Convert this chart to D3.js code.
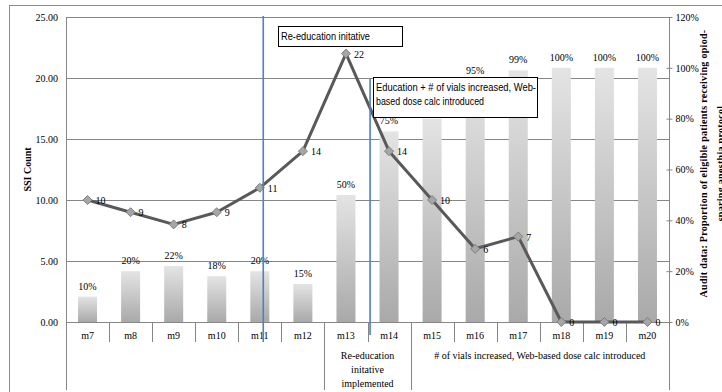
<!DOCTYPE html>
<html>
<head>
<meta charset="utf-8">
<script src="https://cdn.jsdelivr.net/npm/d3@7"></script>
<style>
  html, body { margin: 0; padding: 0; background: #fff; }
  svg { display: block; }
</style>
</head>
<body>
<svg id="chart" width="722" height="392"></svg>
<script>
// ---- data ----
const categories = ["m7","m8","m9","m10","m11","m12","m13","m14","m15","m16","m17","m18","m19","m20"];
const auditPct   = [10, 20, 22, 18, 20, 15, 50, 75, 80, 95, 99, 100, 100, 100];
const ssiCount   = [10, 9, 8, 9, 11, 14, 22, 14, 10, 6, 7, 0, 0, 0];
const leftTicks  = [0, 5, 10, 15, 20, 25];
const rightTicks = [0, 20, 40, 60, 80, 100, 120];
const groups = [
  { from: "m7",  to: "m12", label: [] },
  { from: "m13", to: "m14", label: ["Re-education", "initative", "implemented"] },
  { from: "m15", to: "m20", label: ["# of vials increased, Web-based dose calc introduced"] }
];
const leftTitle  = "SSI Count";
const rightTitle = ["Audit data: Proportion of eligible patients receiving opiod-", "sparing anesthia protocol"];
const noteBoxes = [
  ["Re-education initative"],
  ["Education + # of vials increased, Web-", "based dose calc introduced"]
];

// ---- layout ----
const W = 722, H = 392;
const plot = { left: 66, right: 669, top: 17, bottom: 322 };
const serif = "'Liberation Serif', 'Times New Roman', serif";
const sans = "'Liberation Sans', Arial, sans-serif";

const svg = d3.select("#chart");

const x = d3.scaleBand().domain(categories).range([plot.left, plot.right]).paddingInner(0).paddingOuter(0);
const yL = d3.scaleLinear().domain([0, 25]).range([plot.bottom, plot.top]);
const yR = d3.scaleLinear().domain([0, 120]).range([plot.bottom, plot.top]);
const bw = x.bandwidth();
const barW = 19;

// gradient
const defs = svg.append("defs");
const grad = defs.append("linearGradient").attr("id", "barGrad")
  .attr("x1", 0).attr("y1", 0).attr("x2", 0).attr("y2", 1);
grad.append("stop").attr("offset", "0%").attr("stop-color", "#e4e4e4");
grad.append("stop").attr("offset", "100%").attr("stop-color", "#a9a9a9");
const blur = defs.append("filter").attr("id", "soft").attr("x", "-20%").attr("y", "-5%").attr("width", "140%").attr("height", "110%");
blur.append("feGaussianBlur").attr("stdDeviation", 0.7);

// outer frame
svg.append("rect").attr("x", 9.5).attr("y", 5.5).attr("width", W).attr("height", H)
  .attr("fill", "none").attr("stroke", "#8c8c8c").attr("stroke-width", 1);

// gridlines (left axis)
svg.append("g").selectAll("line").data(leftTicks).join("line")
  .attr("x1", plot.left).attr("x2", plot.right)
  .attr("y1", d => Math.round(yL(d)) + 0.5).attr("y2", d => Math.round(yL(d)) + 0.5)
  .attr("stroke", "#868686").attr("stroke-width", 1);

// bars
svg.append("g").selectAll("rect").data(categories).join("rect")
  .attr("x", (d) => x(d) + bw / 2 - barW / 2)
  .attr("width", barW)
  .attr("y", (d, i) => yR(auditPct[i]))
  .attr("height", (d, i) => plot.bottom - yR(auditPct[i]))
  .attr("fill", "url(#barGrad)")
  .attr("filter", "url(#soft)");

// bar labels
svg.append("g").selectAll("text").data(categories).join("text")
  .attr("x", d => x(d) + bw / 2)
  .attr("y", (d, i) => yR(auditPct[i]) - 7)
  .attr("text-anchor", "middle")
  .attr("font-family", serif).attr("font-size", 10).attr("fill", "#000")
  .text((d, i) => auditPct[i] + "%");

// axes lines
const axisG = svg.append("g").attr("stroke", "#868686").attr("stroke-width", 1);
axisG.append("line").attr("x1", plot.left + 0.5).attr("x2", plot.left + 0.5).attr("y1", plot.top).attr("y2", 390);
axisG.append("line").attr("x1", plot.right + 0.5).attr("x2", plot.right + 0.5).attr("y1", plot.top).attr("y2", 390);
// category separators
axisG.selectAll("line.sep").data(categories.slice(1)).join("line").attr("class", "sep")
  .attr("x1", d => Math.round(x(d)) + 0.5).attr("x2", d => Math.round(x(d)) + 0.5)
  .attr("y1", plot.bottom).attr("y2", 342);
// group separators
axisG.selectAll("line.grp").data(groups.slice(1)).join("line").attr("class", "grp")
  .attr("x1", d => Math.round(x(d.from)) + 0.5).attr("x2", d => Math.round(x(d.from)) + 0.5)
  .attr("y1", 342).attr("y2", 390);

// left axis ticks text
const leftAxis = d3.axisLeft(yL).tickValues(leftTicks).tickFormat(d3.format(".2f")).tickSize(0).tickPadding(8);
const gl = svg.append("g").attr("transform", `translate(${plot.left},0)`).call(leftAxis);
gl.select(".domain").remove();
gl.selectAll("text").attr("font-family", serif).attr("font-size", 10).attr("fill", "#000");

// right axis
const rightAxis = d3.axisRight(yR).tickValues(rightTicks).tickFormat(d => d + "%").tickSize(3).tickPadding(3);
const gr = svg.append("g").attr("transform", `translate(${plot.right + 0.5},0)`).call(rightAxis);
gr.select(".domain").remove();
gr.selectAll("line").attr("stroke", "#868686").attr("x1", -3);
gr.selectAll("text").attr("font-family", serif).attr("font-size", 10).attr("fill", "#000");

// category labels
svg.append("g").selectAll("text").data(categories).join("text")
  .attr("x", d => x(d) + bw / 2).attr("y", 339)
  .attr("text-anchor", "middle")
  .attr("font-family", serif).attr("font-size", 10).attr("fill", "#000")
  .text(d => d);

// group labels
groups.forEach(g => {
  const cx = (x(g.from) + x(g.to) + bw) / 2;
  g.label.forEach((ln, j) => {
    svg.append("text").attr("x", cx).attr("y", 359 + j * 14)
      .attr("text-anchor", "middle")
      .attr("font-family", serif).attr("font-size", 10).attr("fill", "#000")
      .text(ln);
  });
});

// axis titles
svg.append("text")
  .attr("transform", `translate(31,${(plot.top + plot.bottom) / 2}) rotate(-90)`)
  .attr("text-anchor", "middle").attr("font-family", serif).attr("font-weight", "bold")
  .attr("font-size", 10).text(leftTitle);
rightTitle.forEach((t, j) => {
  svg.append("text")
    .attr("transform", `translate(${707 + j * 17},${(plot.top + 310) / 2}) rotate(-90)`)
    .attr("text-anchor", "middle").attr("font-family", serif).attr("font-weight", "bold")
    .attr("font-size", 10).attr("letter-spacing", 0.3).text(t);
});

// SSI line
const pts = categories.map((c, i) => [x(c) + bw / 2, yL(ssiCount[i])]);
svg.append("path").datum(pts)
  .attr("d", d3.line())
  .attr("fill", "none").attr("stroke", "#595959").attr("stroke-width", 3)
  .attr("stroke-linejoin", "round");
svg.append("g").selectAll("path").data(pts).join("path")
  .attr("d", d => `M${d[0]},${d[1] - 4.5}L${d[0] + 4.5},${d[1]}L${d[0]},${d[1] + 4.5}L${d[0] - 4.5},${d[1]}Z`)
  .attr("fill", "#a6a6a6").attr("stroke", "#7f7f7f").attr("stroke-width", 1);
svg.append("g").selectAll("text").data(pts).join("text")
  .attr("x", d => d[0] + 8).attr("y", d => d[1] + 4)
  .attr("font-family", serif).attr("font-size", 10).attr("fill", "#000")
  .text((d, i) => ssiCount[i]);

// intervention markers (blue vertical lines)
const blue = "#4f81bd";
svg.append("line")
  .attr("x1", x("m11") + bw * 0.58).attr("x2", x("m11") + bw * 0.58)
  .attr("y1", plot.top - 1).attr("y2", 342)
  .attr("stroke", blue).attr("stroke-width", 1.6);
svg.append("line")
  .attr("x1", x("m14") + bw * 0.06).attr("x2", x("m14") + bw * 0.06)
  .attr("y1", 79).attr("y2", 335)
  .attr("stroke", blue).attr("stroke-width", 1.6);

// annotation boxes
const boxes = [
  { x: 278.5, y: 26.5, w: 124, h: 20, lines: noteBoxes[0], lens: [89] },
  { x: 373.5, y: 77.5, w: 164, h: 40, lines: noteBoxes[1], lens: [160, 108] }
];
boxes.forEach(b => {
  svg.append("rect").attr("x", b.x).attr("y", b.y).attr("width", b.w).attr("height", b.h)
    .attr("fill", "#fff").attr("stroke", "#000").attr("stroke-width", 1);
  b.lines.forEach((ln, j) => {
    svg.append("text").attr("x", b.x + 2.5).attr("y", b.y + 13 + j * 14)
      .attr("font-family", sans).attr("font-size", 10).attr("fill", "#000")
      .attr("textLength", b.lens[j]).attr("lengthAdjust", "spacingAndGlyphs")
      .text(ln);
  });
});
</script>
</body>
</html>
